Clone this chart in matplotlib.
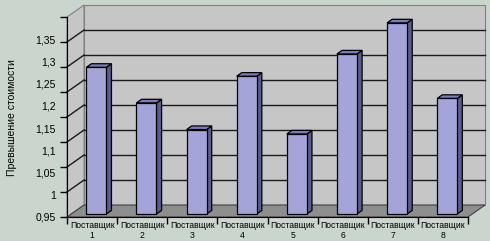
import numpy as np
import matplotlib.pyplot as plt
from matplotlib.patches import Polygon

plt.rcParams['font.family'] = ['Liberation Sans', 'DejaVu Sans']

# --- data ---
suppliers = ["Поставщик\n1", "Поставщик\n2", "Поставщик\n3", "Поставщик\n4",
             "Поставщик\n5", "Поставщик\n6", "Поставщик\n7", "Поставщик\n8"]
values = [1.28, 1.20, 1.14, 1.26, 1.13, 1.31, 1.38, 1.21]
ytick_vals = [0.95, 1.00, 1.05, 1.10, 1.15, 1.20, 1.25, 1.30, 1.35]
ytick_text = ["0,95", "1", "1,05", "1,1", "1,15", "1,2", "1,25", "1,3", "1,35"]
y_title = "Превышение стоимости"

# --- style / 3d look ---
YMIN, YMAX = 0.95, 1.40
DX, DY = 0.34, 0.027          # depth offset of back wall, in data units
T0, T1 = 0.25, 0.55           # bar depth (fraction of full depth)
BAR_W = 0.4
BG = "#c9d5cd"
WALL = "#c6c6c6"
FLOOR = "#8e8e8e"
FRONT = "#a4a4d8"
SIDE = "#5c5c8e"
TOP = "#7c7cb8"

fig = plt.figure(figsize=(4.9, 2.41), dpi=100, facecolor=BG)
ax = fig.add_axes([67/490, 24/241, 401/490, 200/241])
ax.set_facecolor("none")
n = len(values)
x_lo, x_hi = -0.5, n - 0.5
ax.set_xlim(x_lo, x_hi)
ax.set_ylim(YMIN, YMAX)

# walls and floor
back = Polygon([(x_lo+DX, YMIN+DY), (x_hi+DX, YMIN+DY), (x_hi+DX, YMAX+DY), (x_lo+DX, YMAX+DY)],
               closed=True, facecolor=WALL, edgecolor="#808080", lw=0.8, clip_on=False, zorder=0)
left = Polygon([(x_lo, YMIN), (x_lo+DX, YMIN+DY), (x_lo+DX, YMAX+DY), (x_lo, YMAX)],
               closed=True, facecolor=WALL, edgecolor="#808080", lw=0.8, clip_on=False, zorder=0)
floor = Polygon([(x_lo, YMIN), (x_hi, YMIN), (x_hi+DX, YMIN+DY), (x_lo+DX, YMIN+DY)],
                closed=True, facecolor=FLOOR, edgecolor="#404040", lw=0.8, clip_on=False, zorder=1)
for p in (back, left, floor):
    ax.add_patch(p)

# gridlines on the walls
grid = np.linspace(YMIN, YMAX, 9)
for g in grid[1:-1]:
    ax.plot([x_lo+DX, x_hi+DX], [g+DY, g+DY], color="#1a1a1a", lw=1.0, clip_on=False, zorder=1)
    ax.plot([x_lo, x_lo+DX], [g, g+DY], color="#1a1a1a", lw=1.0, clip_on=False, zorder=1)

# bars
for i, v in enumerate(values):
    x0 = i - BAR_W/2 + T0*DX
    y0 = YMIN + T0*DY
    top = v + T0*DY
    bx, by = (T1-T0)*DX, (T1-T0)*DY
    kw = dict(closed=True, edgecolor="black", lw=0.9, clip_on=False, zorder=3)
    ax.add_patch(Polygon([(x0+BAR_W, y0), (x0+BAR_W+bx, y0+by), (x0+BAR_W+bx, top+by), (x0+BAR_W, top)],
                         facecolor=SIDE, **kw))
    ax.add_patch(Polygon([(x0, top), (x0+BAR_W, top), (x0+BAR_W+bx, top+by), (x0+bx, top+by)],
                         facecolor=TOP, **kw))
    ax.add_patch(Polygon([(x0, y0), (x0+BAR_W, y0), (x0+BAR_W, top), (x0, top)],
                         facecolor=FRONT, **kw))

# axes frame
for s in ("top", "right"):
    ax.spines[s].set_visible(False)
ax.spines["left"].set_color("black")
ax.spines["bottom"].set_color("black")
ax.spines["left"].set_zorder(4)
ax.spines["bottom"].set_zorder(4)

ax.yaxis.remove_overlapping_locs = False
ax.set_yticks(grid)
ax.set_yticklabels([])
ax.tick_params(axis="y", which="major", length=5, width=1, color="black")
ax.set_yticks(ytick_vals, minor=True)
ax.set_yticklabels(ytick_text, minor=True, fontsize=7.5)
ax.tick_params(axis="y", which="minor", length=0, pad=8)

ax.set_xticks(np.arange(n + 1) - 0.5)
ax.set_xticklabels([])
ax.tick_params(axis="x", which="major", length=5, width=1, color="black")
ax.set_xticks(np.arange(n), minor=True)
ax.set_xticklabels(suppliers, minor=True, fontsize=6.2, linespacing=1.1)
ax.tick_params(axis="x", which="minor", length=0, pad=3)

fig.text(12/490, 1 - 118/241, y_title, rotation=90, ha="center", va="center", fontsize=7.5)

fig.savefig("out.png", dpi=100, facecolor=BG)
